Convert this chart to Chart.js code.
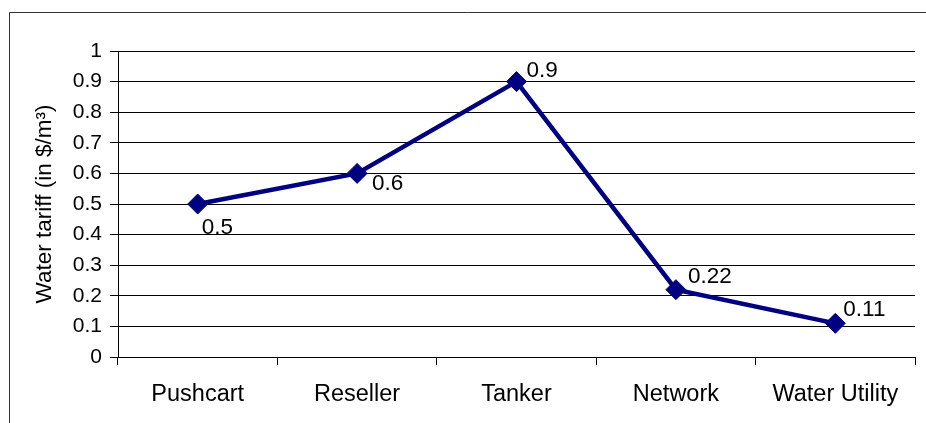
<!DOCTYPE html>
<html>
<head>
<meta charset="utf-8">
<script src="https://cdn.jsdelivr.net/npm/chart.js@4.4.1/dist/chart.umd.min.js"></script>
<style>
  html, body { margin: 0; padding: 0; background: #ffffff; }
  #wrap { width: 926px; height: 423px; }
</style>
</head>
<body>
<div id="wrap"><canvas id="c" width="926" height="423"></canvas></div>
<script>
// Water tariff by supply channel
const categories = ['Pushcart', 'Reseller', 'Tanker', 'Network', 'Water Utility'];
const tariffs = [0.5, 0.6, 0.9, 0.22, 0.11];
const yTickValues = [0, 0.1, 0.2, 0.3, 0.4, 0.5, 0.6, 0.7, 0.8, 0.9, 1];

const FONT = '"Liberation Sans", Arial, sans-serif';

// Where each value label sits relative to its marker (px)
const labelOffsets = [[4, 24], [15, 10], [10, -11], [12, -13], [8, -14]];

// Outer frame of the chart object
const framePlugin = {
  id: 'frame',
  beforeDraw(chart) {
    const ctx = chart.ctx;
    ctx.save();
    ctx.strokeStyle = '#333333';
    ctx.lineWidth = 1;
    ctx.beginPath();
    ctx.moveTo(9.5, 423);
    ctx.lineTo(9.5, 12.5);
    ctx.lineTo(926, 12.5);
    ctx.stroke();
    ctx.restore();
  }
};

// Value labels next to each marker
const valueLabels = {
  id: 'valueLabels',
  afterDatasetsDraw(chart) {
    const ctx = chart.ctx;
    const meta = chart.getDatasetMeta(0);
    const data = chart.data.datasets[0].data;
    ctx.save();
    ctx.font = '22.5px ' + FONT;
    ctx.fillStyle = '#000000';
    ctx.textAlign = 'left';
    ctx.textBaseline = 'middle';
    meta.data.forEach((pt, i) => {
      const off = labelOffsets[i];
      ctx.fillText(String(data[i]), pt.x + off[0], pt.y + off[1]);
    });
    ctx.restore();
  }
};

new Chart(document.getElementById('c'), {
  type: 'line',
  data: {
    labels: categories,
    datasets: [{
      data: tariffs,
      borderColor: '#000080',
      backgroundColor: '#000080',
      borderWidth: 4.5,
      pointStyle: 'rectRot',
      pointRadius: 10,
      pointBorderWidth: 1,
      pointBorderColor: '#000080',
      pointBackgroundColor: '#000080',
      tension: 0,
      fill: false
    }]
  },
  options: {
    responsive: false,
    animation: false,
    devicePixelRatio: 1,
    layout: { padding: { left: 10, right: 8, top: 51, bottom: 0 } },
    plugins: {
      legend: { display: false },
      tooltip: { enabled: false },
      title: { display: false }
    },
    scales: {
      x: {
        type: 'category',
        offset: true,
        grid: {
          offset: true,
          drawOnChartArea: false,
          drawTicks: true,
          tickLength: 8,
          color: '#000000',
          lineWidth: 1
        },
        border: { color: '#000000', width: 1 },
        ticks: {
          color: '#000000',
          font: { family: FONT, size: 23.5 },
          padding: 15,
          maxRotation: 0,
          autoSkip: false
        },
        afterFit(scale) { scale.height = 66; }
      },
      y: {
        min: 0,
        max: 1,
        afterBuildTicks(scale) {
          scale.ticks = yTickValues.map(v => ({ value: v }));
        },
        grid: {
          color: '#000000',
          lineWidth: 1,
          drawTicks: true,
          tickLength: 8
        },
        border: { color: '#000000', width: 1 },
        ticks: {
          color: '#000000',
          font: { family: FONT, size: 21 },
          padding: 8,
          callback: v => String(Math.round(v * 10) / 10)
        },
        title: {
          display: true,
          text: 'Water tariff (in $/m³)',
          color: '#000000',
          font: { family: FONT, size: 22.5 },
          padding: { top: 21, bottom: 0 }
        },
        afterFit(scale) { scale.width = 108; }
      }
    }
  },
  plugins: [framePlugin, valueLabels]
});
</script>
</body>
</html>
